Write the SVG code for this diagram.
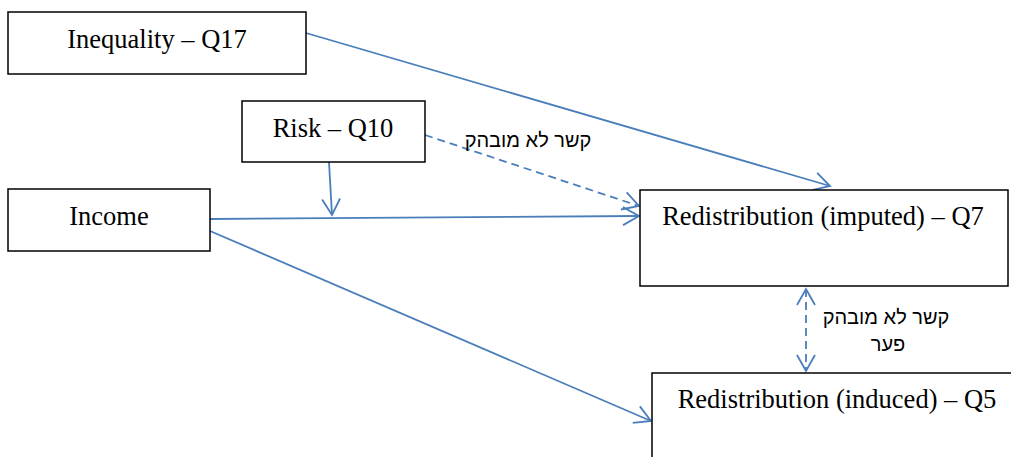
<svg xmlns="http://www.w3.org/2000/svg" width="1011" height="457" viewBox="0 0 1011 457">
<defs>
<style>
.box{fill:#fff;stroke:#000;stroke-width:1.5}
.lbl{font-family:"Liberation Serif","Times New Roman",serif;font-size:26.5px;fill:#000;text-anchor:middle}
.heb{font-family:"Liberation Sans","DejaVu Sans",Arial,sans-serif;font-size:20px;fill:#000;text-anchor:middle}
.con{fill:none;stroke:#4A7EBB;stroke-width:1.8}
.dash{stroke-dasharray:8 5}
</style>
<marker id="arr" viewBox="0 0 20 20" refX="18" refY="10" markerWidth="20" markerHeight="20" markerUnits="userSpaceOnUse" orient="auto-start-reverse">
<path d="M2,1 L18,10 L2,19" fill="none" stroke="#4A7EBB" stroke-width="1.8"/>
</marker>
</defs>
<rect width="1011" height="457" fill="#fff"/>
<g id="connectors">
<line class="con" x1="306" y1="33" x2="830" y2="186" marker-end="url(#arr)"/>
<line class="con" x1="329" y1="162" x2="332" y2="215" marker-end="url(#arr)"/>
<line class="con dash" x1="425" y1="135" x2="639" y2="206" marker-end="url(#arr)"/>
<line class="con" x1="210" y1="219" x2="639" y2="216" marker-end="url(#arr)"/>
<line class="con" x1="210" y1="231" x2="651" y2="421" marker-end="url(#arr)"/>
<line class="con dash" x1="806" y1="289" x2="806" y2="371" marker-start="url(#arr)" marker-end="url(#arr)"/>
<text class="heb" x="528" y="147">קשר לא מובהק</text>
<text class="heb" x="886" y="324">קשר לא מובהק</text>
<text class="heb" x="888" y="351">פער</text>
</g>
<g id="inequality">
<rect class="box" x="8" y="12" width="298" height="62"/>
<text class="lbl" x="157" y="48">Inequality – Q17</text>
</g>
<g id="risk">
<rect class="box" x="242" y="101" width="183" height="61"/>
<text class="lbl" x="333" y="137">Risk – Q10</text>
</g>
<g id="income">
<rect class="box" x="8" y="189" width="202" height="62"/>
<text class="lbl" x="109" y="225">Income</text>
</g>
<g id="imputed">
<rect class="box" x="640" y="190" width="368" height="96"/>
<text class="lbl" x="823" y="225">Redistribution (imputed) – Q7</text>
</g>
<g id="induced">
<rect class="box" x="652" y="373" width="380" height="100"/>
<text class="lbl" x="837" y="408">Redistribution (induced) – Q5</text>
</g>
</svg>
